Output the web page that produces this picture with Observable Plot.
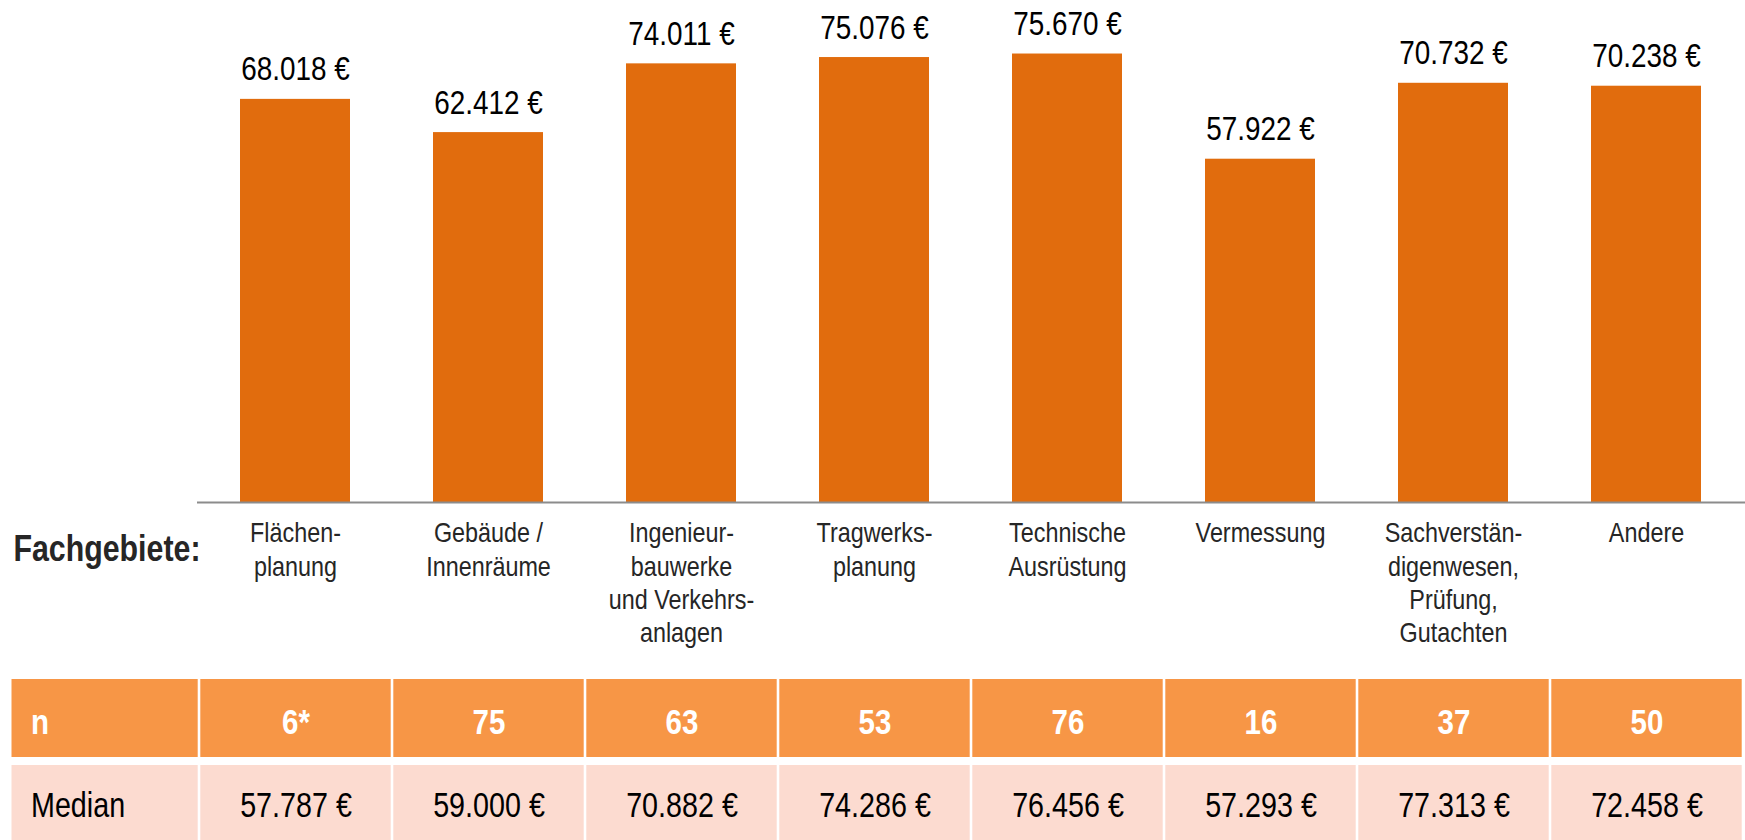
<!DOCTYPE html>
<html><head><meta charset="utf-8">
<script src="https://cdn.jsdelivr.net/npm/d3@7"></script>
<script src="https://cdn.jsdelivr.net/npm/@observablehq/plot@0.6"></script>
<style>
html,body{margin:0;padding:0;background:#fff;overflow:hidden;width:1745px;height:840px}
#chart svg{display:block}
</style></head><body><div id="chart"></div>
<script>
// ---- data ----
const categories = ["Flächen-\nplanung","Gebäude /\nInnenräume","Ingenieur-\nbauwerke\nund Verkehrs-\nanlagen","Tragwerks-\nplanung","Technische\nAusrüstung","Vermessung","Sachverstän-\ndigenwesen,\nPrüfung,\nGutachten","Andere"];
const salaries = [68018,62412,74011,75076,75670,57922,70732,70238];
const counts = ["6*","75","63","53","76","16","37","50"];
const medians = [57787,59000,70882,74286,76456,57293,77313,72458];
const rowLabels = ["n","Median"];
const axisTitle = "Fachgebiete:";

// ---- helpers ----
const de = d3.formatLocale({decimal:",", thousands:".", grouping:[3], currency:["",""]});
const fmt = v => de.format(",d")(v) + " €";
const FONT = '"Liberation Sans",Arial,sans-serif';
const NARROW = 0.82; // emulate a narrow face

// ---- main chart ----
const bars = salaries.map((v,i)=>({cat:categories[i], value:v}));
const plot1 = Plot.plot({
  width:1745, height:675,
  marginLeft:197, marginRight:0, marginTop:0, marginBottom:173,
  x:{domain:categories, paddingInner:0.428, paddingOuter:0.214, axis:null},
  y:{domain:[0,84700], axis:null},
  style:{fontFamily:FONT, background:"transparent", overflow:"visible"},
  marks:[
    Plot.barY(bars,{x:"cat", y:"value", fill:"#E16C0D"}),
    Plot.ruleY([0],{stroke:"#8C8C8C", strokeWidth:2}),
    Plot.text(bars,{x:"cat", y:"value", text:d=>fmt(d.value), lineAnchor:"bottom", dy:-19, fontSize:34, fill:"#000"}),
    Plot.text(bars,{x:"cat", y:()=>0, text:"cat", lineAnchor:"top", dy:16, fontSize:28.5, lineHeight:1.17, fill:"#262626"}),
    Plot.text([axisTitle],{text:d=>d, y:()=>0, frameAnchor:"left", textAnchor:"end", dx:3, dy:58, lineAnchor:"bottom", fontSize:37, fontWeight:"bold", fill:"#262626"})
  ]
});

// ---- table ----
const LABEL = "__label";
const tableRows = [];
rowLabels.forEach((r,ri)=>{
  categories.forEach((c,i)=>{
    tableRows.push({row:r, cat:c, text: ri===0 ? counts[i] : fmt(medians[i])});
  });
});
const rowFill = r => r==="n" ? "#F79646" : "#FCDBD0";
const plot2 = Plot.plot({
  width:1745, height:172,
  marginLeft:0, marginRight:0, marginTop:0, marginBottom:0,
  x:{domain:[LABEL, ...categories], range:[3.5,1745], padding:0, axis:null},
  y:{domain:rowLabels, range:[0,172], padding:0, axis:null},
  color:{type:"identity"},
  style:{fontFamily:FONT, background:"transparent", overflow:"visible"},
  marks:[
    Plot.cell(tableRows,{x:"cat", y:"row", fill:d=>rowFill(d.row), insetLeft:1.3, insetRight:1.3, insetTop:4, insetBottom:4}),
    Plot.cell(rowLabels,{x:()=>LABEL, y:d=>d, fill:d=>rowFill(d), insetLeft:5.5, insetRight:1.3, insetTop:4, insetBottom:4}),
    Plot.text(tableRows.filter(d=>d.row==="n"),{x:"cat", y:"row", text:"text", fill:"#fff", fontWeight:"bold", fontSize:36, dy:4}),
    Plot.text(tableRows.filter(d=>d.row==="Median"),{x:"cat", y:"row", text:"text", fill:"#000", fontSize:35, dy:1}),
    Plot.text([rowLabels[0]],{x:()=>LABEL, y:d=>d, text:d=>d, textAnchor:"start", dx:-72, dy:4, fill:"#fff", fontWeight:"bold", fontSize:36}),
    Plot.text([rowLabels[1]],{x:()=>LABEL, y:d=>d, text:d=>d, textAnchor:"start", dx:-72, dy:1, fill:"#000", fontSize:35})
  ]
});

const host = document.getElementById("chart");
host.appendChild(plot1);
host.appendChild(plot2);

// condense all texts horizontally around their anchor point
for (const t of host.querySelectorAll("svg text")) {
  const tr = t.getAttribute("transform");
  if (tr) {
    t.setAttribute("transform", tr + ` scale(${NARROW},1)`);
  } else {
    const x = +(t.getAttribute("x") || 0), y = +(t.getAttribute("y") || 0);
    t.removeAttribute("x"); t.removeAttribute("y");
    t.setAttribute("transform", `translate(${x},${y}) scale(${NARROW},1)`);
  }
}
</script></body></html>
